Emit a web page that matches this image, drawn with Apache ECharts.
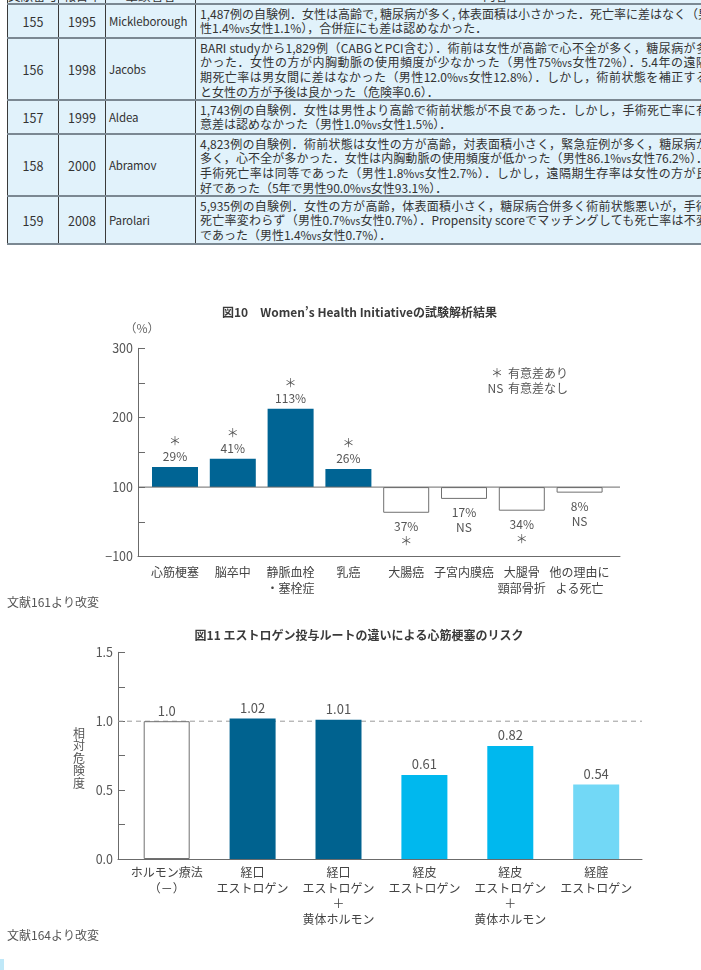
<!DOCTYPE html>
<html lang="ja">
<head>
<meta charset="utf-8">
<title>図10・図11</title>
<script src="https://cdn.jsdelivr.net/npm/echarts@6.0.0/dist/echarts.min.js"></script>
<style>
  html, body { margin:0; padding:0; background:#fff; }
  body { width:701px; height:970px; position:relative; overflow:hidden; font-family:"Noto Sans CJK JP","Noto Sans",sans-serif; }
  #chart { position:absolute; left:0; top:0; width:701px; height:970px; }
  #table { position:absolute; left:0; top:0; width:701px; height:260px; overflow:hidden; z-index:2; }
  .row { position:absolute; left:7px; width:760px; box-sizing:border-box; border-top:2px solid #7b8892; background:#e1f2fb; }
  .cell { position:absolute; top:0; bottom:0; box-sizing:border-box; border-left:1px solid #3a3a3a; color:#333; font-size:12px; overflow:hidden; }
  .mid { display:flex; align-items:center; }
  .ctr { justify-content:center; font-size:12.5px; }
  .name { padding-left:3px; font-size:11.5px; letter-spacing:-0.15px; }
  .txt { padding:2px 0 0 4px; line-height:14px; }
  .ln { width:508px; white-space:nowrap; text-align:justify; text-align-last:justify; }
  .ln.last { text-align:left; text-align-last:left; }
  .vs { font-size:10px; }
  .tbottom { position:absolute; left:7px; width:760px; height:2px; background:#7b8892; }
  .corner { position:absolute; left:0; top:959px; width:4px; height:11px; background:#bfe8f8; }
</style>
</head>
<body>
<div id="chart"></div>
<div id="table"></div>
<div class="corner"></div>
<script>
// ---------------- data: table ----------------
const tableHeaders = ['文献番号', '報告年', '筆頭著者', '内容'];
const refNumbers = ['155', '156', '157', '158', '159'];
const refYears = ['1995', '1998', '1999', '2000', '2008'];
const refAuthors = ['Mickleborough', 'Jacobs', 'Aldea', 'Abramov', 'Parolari'];
const refSummaries = [
  ['1,487例の自験例．女性は高齢で, 糖尿病が多く, 体表面積は小さかった．死亡率に差はなく（男',
   '性1.4%vs女性1.1%），合併症にも差は認めなかった．'],
  ['BARI studyから1,829例（CABGとPCI含む）．術前は女性が高齢で心不全が多く，糖尿病が多',
   'かった．女性の方が内胸動脈の使用頻度が少なかった（男性75%vs女性72%）．5.4年の遠隔',
   '期死亡率は男女間に差はなかった（男性12.0%vs女性12.8%）．しかし，術前状態を補正する',
   'と女性の方が予後は良かった（危険率0.6）．'],
  ['1,743例の自験例．女性は男性より高齢で術前状態が不良であった．しかし，手術死亡率に有',
   '意差は認めなかった（男性1.0%vs女性1.5%）．'],
  ['4,823例の自験例．術前状態は女性の方が高齢，対表面積小さく，緊急症例が多く，糖尿病が',
   '多く，心不全が多かった．女性は内胸動脈の使用頻度が低かった（男性86.1%vs女性76.2%）．',
   '手術死亡率は同等であった（男性1.8%vs女性2.7%）．しかし，遠隔期生存率は女性の方が良',
   '好であった（5年で男性90.0%vs女性93.1%）．'],
  ['5,935例の自験例．女性の方が高齢，体表面積小さく，糖尿病合併多く術前状態悪いが，手術',
   '死亡率変わらず（男性0.7%vs女性0.7%）．Propensity scoreでマッチングしても死亡率は不変',
   'であった（男性1.4%vs女性0.7%）．']
];

// ---------------- data: figure 10 ----------------
const f10Title = '図10　Women\u2019s Health Initiativeの試験解析結果';
const f10Categories = ['心筋梗塞', '脳卒中', '静脈血栓\n・塞栓症', '乳癌', '大腸癌', '子宮内膜癌', '大腿骨\n頸部骨折', '他の理由に\nよる死亡'];
const f10Change = [29, 41, 113, 26, -37, -17, -34, -8];
const f10Significance = ['＊', '＊', '＊', '＊', '＊', 'NS', '＊', 'NS'];
const f10Baseline = 100;
const f10TickLabels = { 0: '\u2212100', 100: '100', 200: '200', 300: '300' };
const f10Unit = '（%）';
const f10LegendMarks = ['＊', 'NS'];
const f10LegendTexts = ['有意差あり', '有意差なし'];
const f10Source = '文献161より改変';

// ---------------- data: figure 11 ----------------
const f11Title = '図11 エストロゲン投与ルートの違いによる心筋梗塞のリスク';
const f11Categories = ['ホルモン療法\n（－）', '経口\nエストロゲン', '経口\nエストロゲン\n＋\n黄体ホルモン', '経皮\nエストロゲン', '経皮\nエストロゲン\n＋\n黄体ホルモン', '経腟\nエストロゲン'];
const f11Values = [1.0, 1.02, 1.01, 0.61, 0.82, 0.54];
const f11ValueLabels = ['1.0', '1.02', '1.01', '0.61', '0.82', '0.54'];
const f11Reference = 1.0;
const f11AxisName = '相対危険度';
const f11Source = '文献164より改変';

// ---------------- styles ----------------
const FONT = '"Noto Sans CJK JP","Noto Sans",sans-serif';
const AXIS = '#6b6b6b';
const LABEL = '#555';
const f10Pos = { color: '#006494' };
const f10Neg = { color: '#ffffff', borderColor: '#707070', borderWidth: 1 };
const f11BarStyles = [
  { color: '#ffffff', borderColor: '#707070', borderWidth: 1 },
  { color: '#00628f' }, { color: '#00628f' },
  { color: '#00b8ee' }, { color: '#00b8ee' },
  { color: '#72d8f6' }
];

// ---------------- table (HTML) ----------------
(function buildTable() {
  const host = document.getElementById('table');
  const colLeft = [0, 51, 98, 188];
  const colWidth = [51, 47, 90, 600];
  const LH = 14, PAD = 6;
  function esc(s) { return s.replace(/&/g, '&amp;').replace(/</g, '&lt;'); }
  function row(top, height, cells, isHeader) {
    const r = document.createElement('div');
    r.className = 'row';
    r.style.top = top + 'px';
    r.style.height = height + 'px';
    cells.forEach((html, k) => {
      const c = document.createElement('div');
      c.className = 'cell';
      c.style.left = colLeft[k] + 'px';
      c.style.width = colWidth[k] + 'px';
      if (isHeader) { c.className += ' mid ctr'; c.innerHTML = html; }
      else if (k < 2) { c.className += ' mid ctr'; c.innerHTML = html; }
      else if (k === 2) { c.className += ' mid name'; c.innerHTML = html; }
      else { c.className += ' txt'; c.innerHTML = html; }
      r.appendChild(c);
    });
    host.appendChild(r);
  }
  row(-15, 18, tableHeaders, true);
  let y = 3;
  refNumbers.forEach((n, i) => {
    const lines = refSummaries[i];
    const h = lines.length * LH + PAD;
    const txt = lines.map((l, j) =>
      '<div class="ln' + (j === lines.length - 1 ? ' last' : '') + '">' +
      esc(l).replace(/vs/g, '<span class="vs">vs</span>') + '</div>').join('');
    row(y, h, [n, refYears[i], refAuthors[i], txt], false);
    y += h;
  });
  const b = document.createElement('div');
  b.className = 'tbottom';
  b.style.top = y + 'px';
  host.appendChild(b);
})();

// ---------------- charts ----------------
const chart = echarts.init(document.getElementById('chart'), null, { renderer: 'canvas' });

const hiddenValueX = (g) => ({
  gridIndex: g, type: 'value', min: 0, max: 1,
  axisLine: { show: true, onZero: false, lineStyle: { color: AXIS, width: 1 } },
  axisTick: { show: false }, axisLabel: { show: false }, splitLine: { show: false }
});

const option = {
  animation: false,
  backgroundColor: 'transparent',
  textStyle: { fontFamily: FONT },
  grid: [
    { left: 138, width: 482, top: 348.3, height: 208.2 },
    { left: 146.1, width: 462.4, top: 348.3, height: 208.2 },
    { left: 118, width: 524, top: 652.3, height: 206.7 },
    { left: 123.75, width: 515.4, top: 652.3, height: 206.7 }
  ],
  xAxis: [
    hiddenValueX(0),
    {
      gridIndex: 1, type: 'category', data: f10Categories,
      axisLine: { show: false }, axisTick: { show: false },
      axisLabel: { interval: 0, color: '#444', fontSize: 12, lineHeight: 16, margin: 8, fontFamily: FONT }
    },
    hiddenValueX(2),
    {
      gridIndex: 3, type: 'category', data: f11Categories,
      axisLine: { show: false }, axisTick: { show: false },
      axisLabel: { interval: 0, color: '#444', fontSize: 12, lineHeight: 15.5, margin: 6, fontFamily: FONT }
    }
  ],
  yAxis: [
    {
      gridIndex: 0, type: 'value', min: 0, max: 300, interval: 50,
      axisLine: { show: true, lineStyle: { color: AXIS, width: 1 } },
      axisTick: { show: true, inside: true, length: 7, lineStyle: { color: AXIS } },
      axisLabel: { formatter: v => (f10TickLabels[v] !== undefined ? f10TickLabels[v] : ''), color: LABEL, fontSize: 12.5, margin: 5, fontFamily: FONT },
      splitLine: { show: false }
    },
    { gridIndex: 1, type: 'value', min: 0, max: 300, show: false },
    {
      gridIndex: 2, type: 'value', min: 0, max: 1.5, interval: 0.25,
      axisLine: { show: true, lineStyle: { color: AXIS, width: 1 } },
      axisTick: { show: true, inside: true, length: 7, lineStyle: { color: AXIS } },
      axisLabel: {
        formatter: v => (Math.abs(v * 2 - Math.round(v * 2)) < 1e-6 ? v.toFixed(1) : ''),
        color: LABEL, fontSize: 12.5, margin: 5, fontFamily: FONT
      },
      splitLine: { show: false }
    },
    { gridIndex: 3, type: 'value', min: 0, max: 1.5, show: false }
  ],
  series: [
    // fig 10: baseline (relative risk 100)
    {
      type: 'line', xAxisIndex: 0, yAxisIndex: 0, silent: true, symbol: 'none', z: 4,
      data: [[0, f10Baseline], [1, f10Baseline]],
      lineStyle: { color: AXIS, width: 1 }
    },
    // fig 10: invisible base of the stacked bars
    {
      type: 'bar', xAxisIndex: 1, yAxisIndex: 1, stack: 'f10', barWidth: 46, silent: true,
      data: f10Change.map(c => Math.min(f10Baseline, f10Baseline + c)),
      itemStyle: { color: 'rgba(0,0,0,0)' }
    },
    // fig 10: visible change bars
    {
      type: 'bar', xAxisIndex: 1, yAxisIndex: 1, stack: 'f10', barWidth: 46, z: 3,
      data: f10Change.map(c => ({
        value: Math.abs(c),
        itemStyle: c >= 0 ? f10Pos : f10Neg,
        label: { position: c >= 0 ? 'top' : 'bottom', distance: c >= 0 ? 3 : 6 }
      })),
      label: {
        show: true, color: LABEL, fontSize: 12, lineHeight: 15, fontFamily: FONT,
        formatter: p => {
          const c = f10Change[p.dataIndex];
          const s = f10Significance[p.dataIndex];
          return c >= 0 ? s + '\n' + c + '%' : Math.abs(c) + '%\n' + s;
        }
      }
    },
    // fig 11: dashed reference line at 1.0
    {
      type: 'line', xAxisIndex: 2, yAxisIndex: 2, silent: true, symbol: 'none', z: 1,
      data: [[0, f11Reference], [1, f11Reference]],
      lineStyle: { color: '#9a9a9a', width: 1, type: [5, 4] }
    },
    // fig 11 bars
    {
      type: 'bar', xAxisIndex: 3, yAxisIndex: 3, barWidth: 46, z: 2,
      data: f11Values.map((v, i) => ({ value: v, itemStyle: f11BarStyles[i] })),
      label: {
        show: true, position: 'top', distance: 4, color: LABEL, fontSize: 13, fontFamily: FONT,
        formatter: p => f11ValueLabels[p.dataIndex]
      }
    }
  ],
  graphic: [
    { type: 'text', x: 359.5, y: 312, silent: true,
      style: { text: f10Title, align: 'center', verticalAlign: 'middle', fontSize: 12, fontWeight: 'bold', fontFamily: FONT, fill: '#3a3a3a' } },
    { type: 'text', x: 142, y: 328, silent: true,
      style: { text: f10Unit, align: 'center', verticalAlign: 'middle', fontSize: 12, fontFamily: FONT, fill: '#666' } },
    { type: 'text', x: 497, y: 373, silent: true,
      style: { text: f10LegendMarks[0], align: 'center', verticalAlign: 'middle', fontSize: 12, fontFamily: FONT, fill: LABEL } },
    { type: 'text', x: 568, y: 373, silent: true,
      style: { text: f10LegendTexts[0], align: 'right', verticalAlign: 'middle', fontSize: 12, fontFamily: FONT, fill: LABEL } },
    { type: 'text', x: 495.5, y: 388, silent: true,
      style: { text: f10LegendMarks[1], align: 'center', verticalAlign: 'middle', fontSize: 12, fontFamily: FONT, fill: LABEL } },
    { type: 'text', x: 568, y: 388, silent: true,
      style: { text: f10LegendTexts[1], align: 'right', verticalAlign: 'middle', fontSize: 12, fontFamily: FONT, fill: LABEL } },
    { type: 'text', x: 7, y: 602, silent: true,
      style: { text: f10Source, align: 'left', verticalAlign: 'middle', fontSize: 12, fontFamily: FONT, fill: '#555' } },
    { type: 'text', x: 359, y: 635, silent: true,
      style: { text: f11Title, align: 'center', verticalAlign: 'middle', fontSize: 12, fontWeight: 'bold', fontFamily: FONT, fill: '#3a3a3a' } },
    { type: 'text', x: 79, y: 758, silent: true,
      style: { text: f11AxisName.split('').join('\n'), align: 'center', verticalAlign: 'middle', fontSize: 12, lineHeight: 12.5, fontFamily: FONT, fill: LABEL } },
    { type: 'text', x: 7, y: 935, silent: true,
      style: { text: f11Source, align: 'left', verticalAlign: 'middle', fontSize: 12, fontFamily: FONT, fill: '#555' } }
  ]
};
chart.setOption(option);
</script>
</body>
</html>
